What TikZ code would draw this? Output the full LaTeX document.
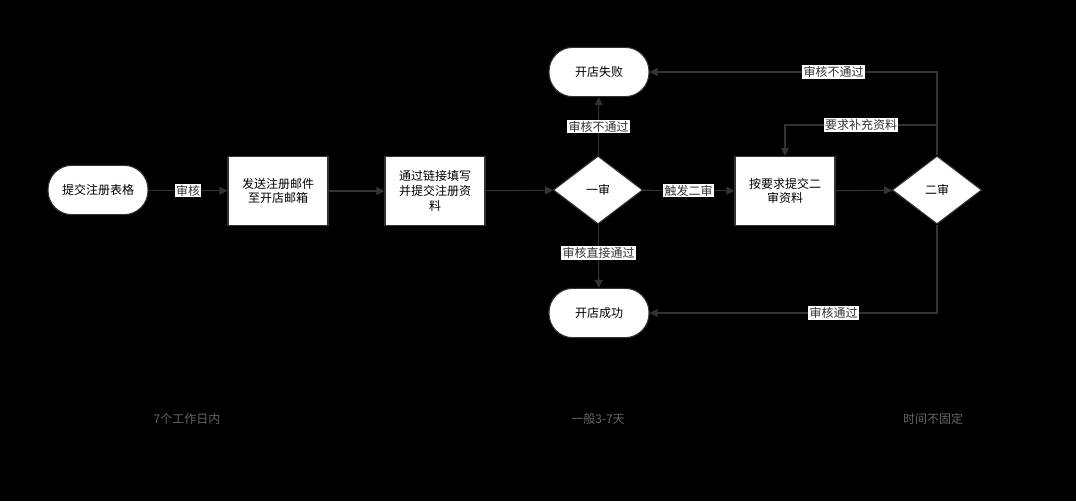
\documentclass[tikz,border=0pt]{standalone}
\usepackage{fontspec}
\setmainfont{Noto Sans CJK SC}
\usetikzlibrary{shapes.geometric, arrows.meta, positioning}
\definecolor{linegray}{HTML}{333333}
\definecolor{notegray}{HTML}{666666}
\tikzstyle{process} = [rectangle, minimum width=75pt, minimum height=52pt, align=center, draw=linegray, thick, fill=white, font=\small]
\tikzstyle{terminal} = [rectangle, rounded corners=18pt, minimum width=75pt, minimum height=37pt, draw=linegray, thick, fill=white, font=\small]
\tikzstyle{decision} = [diamond, aspect=1.3, minimum width=67pt, minimum height=51pt, inner sep=0pt, draw=linegray, thick, fill=white, font=\small]
\tikzstyle{arrow} = [thick, linegray, -{Triangle[length=6pt,width=6pt]}]
\tikzstyle{tag} = [fill=white, inner sep=1pt, font=\small]
\tikzstyle{note} = [text=notegray, font=\small]

\begin{document}
\begin{tikzpicture}[x=0.75pt, y=-0.75pt]
        \fill[black] (0,0) rectangle (1076,501);
        \node (form) [terminal] at (98,190) {提交注册表格};
        \node (mail) [process] at (278,191) {发送注册邮件\\至开店邮箱};
        \node (fill) [process] at (435,191) {通过链接填写\\并提交注册资\\料};
        \node (first) [decision] at (598,190) {一审};
        \node (fail) [terminal] at (599,72) {开店失败};
        \node (ok) [terminal] at (599,313) {开店成功};
        \node (again) [process] at (785,191) {按要求提交二\\审资料};
        \node (second) [decision] at (937,190) {二审};
        \coordinate (back) at (937,125);

        \node (n1) [note] at (187,419) {7个工作日内};
        \node (n2) [note] at (598,419) {一般3-7天};
        \node (n3) [note] at (933,419) {时间不固定};

        \draw [arrow] (form) -- node[tag] {审核} (mail);
        \draw [arrow] (mail) -- (fill);
        \draw [arrow] (fill) -- (first);
        \draw [arrow] (first) -- node[tag] {审核不通过} (fail);
        \draw [arrow] (first) -- node[tag, pos=0.45] {审核直接通过} (ok);
        \draw [arrow] (first) -- node[tag] {触发二审} (again);
        \draw [arrow] (again) -- (second);
        \draw [arrow] (second.north) |- node[tag, pos=0.68] {审核不通过} (fail);
        \draw [arrow] (back) -| node[tag, pos=0.25] {要求补充资料} (again.north);
        \draw [arrow] (second.south) |- node[tag, pos=0.68] {审核通过} (ok);
    \end{tikzpicture}
\end{document}
